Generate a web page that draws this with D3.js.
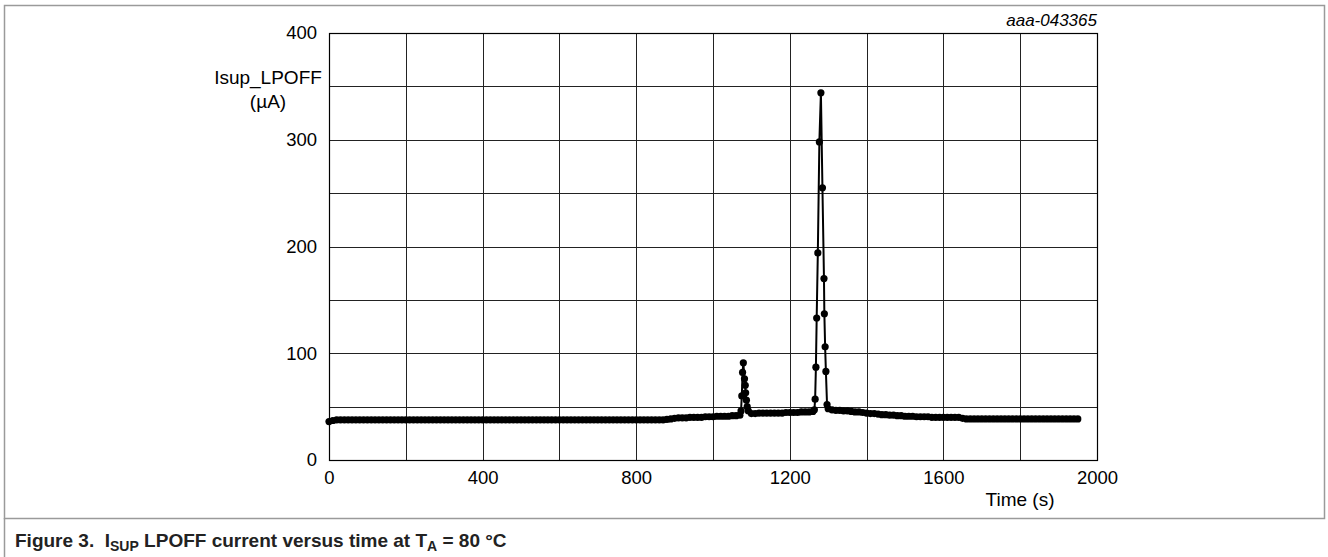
<html>
  <head>
    <style>
      body {
        margin:0;
        font-family:"Liberation Sans", Arial, sans-serif;
        background:#fff;
      }
      .tick text {
        font-size:18.5px;
        fill:#000;
      }
      .grid line {
        stroke:#222;
        stroke-width:1;
      }
    </style>
  </head>
  <body>
    <div class="graph"></div>
    <script src="https://d3js.org/d3.v7.min.js" type="text/javascript"></script>
    <script>
      // time in s, supply current in uA
      var timeS = [
        0, 10, 20, 30, 40, 50, 60, 70, 80, 90,
        100, 110, 120, 130, 140, 150, 160, 170, 180, 190,
        200, 210, 220, 230, 240, 250, 260, 270, 280, 290,
        300, 310, 320, 330, 340, 350, 360, 370, 380, 390,
        400, 410, 420, 430, 440, 450, 460, 470, 480, 490,
        500, 510, 520, 530, 540, 550, 560, 570, 580, 590,
        600, 610, 620, 630, 640, 650, 660, 670, 680, 690,
        700, 710, 720, 730, 740, 750, 760, 770, 780, 790,
        800, 810, 820, 830, 840, 850, 860, 870, 880, 890,
        900, 910, 920, 930, 940, 950, 960, 970, 980, 990,
        1000, 1010, 1020, 1030, 1040, 1050, 1060, 1070,
        1073, 1075, 1077, 1079, 1082, 1084, 1085, 1087, 1089, 1092,
        1100, 1110, 1120, 1130, 1140, 1150, 1160, 1170, 1180, 1190,
        1200, 1210, 1220, 1230, 1240, 1250, 1260,
        1264, 1266, 1268, 1270, 1273, 1277, 1281, 1285, 1289, 1290, 1292, 1294, 1297,
        1300, 1310, 1320, 1330, 1340, 1350, 1360, 1370, 1380, 1390,
        1400, 1410, 1420, 1430, 1440, 1450, 1460, 1470, 1480, 1490,
        1500, 1510, 1520, 1530, 1540, 1550, 1560, 1570, 1580, 1590,
        1600, 1610, 1620, 1630, 1640, 1650, 1660, 1670, 1680, 1690,
        1700, 1710, 1720, 1730, 1740, 1750, 1760, 1770, 1780, 1790,
        1800, 1810, 1820, 1830, 1840, 1850, 1860, 1870, 1880, 1890,
        1900, 1910, 1920, 1930, 1940, 1950
      ];
      var isupLpoff = [
        36, 37, 37.5, 37.5, 37.5, 37.5, 37.5, 37.5, 37.5, 37.5,
        37.5, 37.5, 37.5, 37.5, 37.5, 37.5, 37.5, 37.5, 37.5, 37.5,
        37.5, 37.5, 37.5, 37.5, 37.5, 37.5, 37.5, 37.5, 37.5, 37.5,
        37.5, 37.5, 37.5, 37.5, 37.5, 37.5, 37.5, 37.5, 37.5, 37.5,
        37.5, 37.5, 37.5, 37.5, 37.5, 37.5, 37.5, 37.5, 37.5, 37.5,
        37.5, 37.5, 37.5, 37.5, 37.5, 37.5, 37.5, 37.5, 37.5, 37.5,
        37.5, 37.5, 37.5, 37.5, 37.5, 37.5, 37.5, 37.5, 37.5, 37.5,
        37.5, 37.5, 37.5, 37.5, 37.5, 37.5, 37.5, 37.5, 37.5, 37.5,
        37.5, 37.5, 37.5, 37.5, 37.5, 37.5, 37.5, 37.5, 38, 38.5,
        39, 39.5, 39.5, 39.5, 40, 40, 40, 40, 40.5, 40.5,
        40.5, 41, 41, 41, 41, 41.5, 41.5, 42,
        46, 60, 82, 91, 76, 70, 63, 56, 50, 46,
        43.5, 43.5, 44, 44, 44, 44, 44, 44, 44, 44.5,
        44.5, 44.5, 44.5, 45, 45, 45, 45.5,
        47, 57, 87, 133, 194, 298, 344, 255, 170, 137, 106, 83, 52,
        48, 47, 46.5, 46.5, 46, 46, 45.5, 45, 45, 44.5,
        44, 43.5, 43.5, 43, 42.5, 42.5, 42, 42, 41.5, 41.5,
        41, 41, 41, 40.5, 40.5, 40.5, 40.5, 40, 40, 40,
        40, 40, 40, 40, 40, 39, 38.5, 38.5, 38.5, 38.5,
        38.5, 38.5, 38.5, 38.5, 38.5, 38.5, 38.5, 38.5, 38.5, 38.5,
        38.5, 38.5, 38.5, 38.5, 38.5, 38.5, 38.5, 38.5, 38.5, 38.5,
        38.5, 38.5, 38.5, 38.5, 38.5, 38.5
      ];
      var xTicks = [0, 400, 800, 1200, 1600, 2000];
      var yTicks = [0, 100, 200, 300, 400];
      var xGrid = [200, 400, 600, 800, 1000, 1200, 1400, 1600, 1800];
      var yGrid = [50, 100, 150, 200, 250, 300, 350];

      var width = 1328;
      var height = 557;
      var pLeft = 329, pRight = 1097, pTop = 33, pBottom = 460;

      var x = d3.scaleLinear().domain([0, 2000]).range([pLeft, pRight]);
      var y = d3.scaleLinear().domain([0, 400]).range([pBottom, pTop]);

      var svg = d3.select(".graph").append("svg")
        .attr("width", width)
        .attr("height", height);

      // figure frame
      svg.append("rect")
        .attr("x", 4.5).attr("y", 5.5)
        .attr("width", 1320).attr("height", 513)
        .attr("fill", "none")
        .attr("stroke", "#9a9a9a")
        .attr("stroke-width", 1.5);
      svg.append("line")
        .attr("x1", 4.5).attr("x2", 4.5)
        .attr("y1", 518).attr("y2", height)
        .attr("stroke", "#9a9a9a")
        .attr("stroke-width", 1.5);

      // grid
      var grid = svg.append("g").attr("class", "grid");
      grid.selectAll(".vx").data(xGrid).enter().append("line")
        .attr("x1", function (d) { return Math.round(x(d)) + 0.5; })
        .attr("x2", function (d) { return Math.round(x(d)) + 0.5; })
        .attr("y1", pTop).attr("y2", pBottom);
      grid.selectAll(".hy").data(yGrid).enter().append("line")
        .attr("x1", pLeft).attr("x2", pRight)
        .attr("y1", function (d) { return Math.round(y(d)) + 0.5; })
        .attr("y2", function (d) { return Math.round(y(d)) + 0.5; });

      svg.append("rect")
        .attr("x", pLeft + 0.5).attr("y", pTop + 0.5)
        .attr("width", pRight - pLeft).attr("height", pBottom - pTop)
        .attr("fill", "none")
        .attr("stroke", "#000")
        .attr("stroke-width", 1.2);

      // axes, labels only
      var xAxis = svg.append("g")
        .attr("transform", "translate(0," + pBottom + ")")
        .call(d3.axisBottom(x).tickValues(xTicks).tickFormat(d3.format("d"))
          .tickSize(0).tickPadding(11));
      xAxis.select(".domain").remove();

      var yAxis = svg.append("g")
        .attr("transform", "translate(" + pLeft + ",0)")
        .call(d3.axisLeft(y).tickValues(yTicks).tickFormat(d3.format("d"))
          .tickSize(0).tickPadding(12));
      yAxis.select(".domain").remove();

      svg.selectAll(".tick text")
        .attr("font-family", "Liberation Sans, Arial, sans-serif");

      svg.append("text")
        .attr("x", 268).attr("y", 84)
        .attr("text-anchor", "middle")
        .attr("font-size", 19)
        .text("Isup_LPOFF");
      svg.append("text")
        .attr("x", 268).attr("y", 108)
        .attr("text-anchor", "middle")
        .attr("font-size", 19)
        .text("(µA)");

      svg.append("text")
        .attr("x", 1020).attr("y", 506)
        .attr("text-anchor", "middle")
        .attr("font-size", 19)
        .text("Time (s)");

      svg.append("text")
        .attr("x", pRight).attr("y", 26)
        .attr("text-anchor", "end")
        .attr("font-size", 17)
        .attr("font-style", "italic")
        .text("aaa-043365");

      // data
      var pts = timeS.map(function (t, i) { return [t, isupLpoff[i]]; });
      var line = d3.line()
        .x(function (d) { return x(d[0]); })
        .y(function (d) { return y(d[1]); });

      svg.append("path")
        .datum(pts)
        .attr("d", line)
        .attr("fill", "none")
        .attr("stroke", "#000")
        .attr("stroke-width", 2);

      svg.append("g").selectAll("circle").data(pts).enter().append("circle")
        .attr("cx", function (d) { return x(d[0]); })
        .attr("cy", function (d) { return y(d[1]); })
        .attr("r", 3.6)
        .attr("fill", "#000");

      // caption
      var cap = svg.append("text")
        .attr("x", 15).attr("y", 547)
        .attr("font-size", 19)
        .attr("font-weight", "bold")
        .attr("fill", "#222");
      cap.append("tspan").text("Figure 3.\u00a0\u00a0I");
      cap.append("tspan").attr("font-size", 14).attr("dy", 4).text("SUP");
      cap.append("tspan").attr("dy", -4).text(" LPOFF current versus time at T");
      cap.append("tspan").attr("font-size", 14).attr("dy", 4).text("A");
      cap.append("tspan").attr("dy", -4).text(" = 80 °C");
    </script>
  </body>
</html>
